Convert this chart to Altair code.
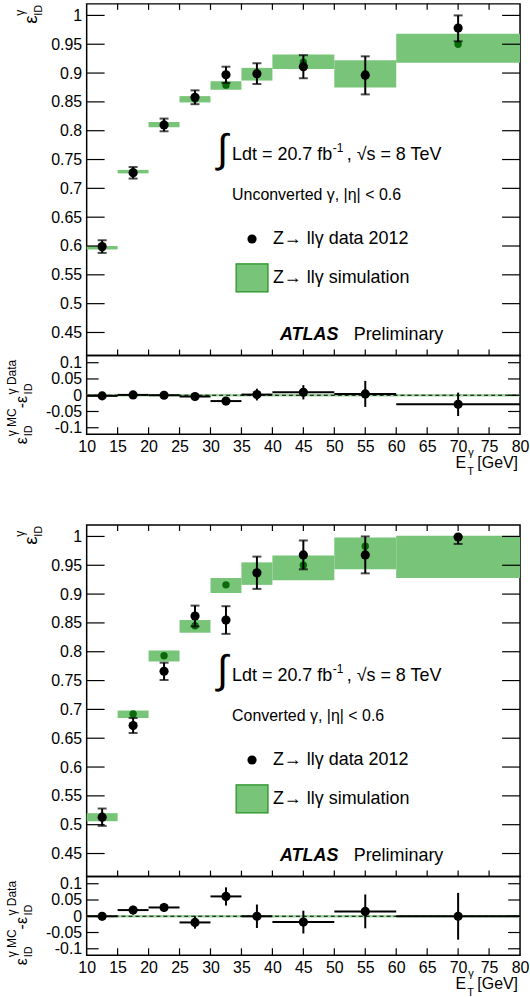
import altair as alt
import pandas as pd

# ---------------- data ----------------
bin_lo = [10, 15, 20, 25, 30, 35, 40, 50, 60]
bin_hi = [15, 20, 25, 30, 35, 40, 50, 60, 80]
bin_ctr = [12.5, 17.5, 22.5, 27.5, 32.5, 37.5, 45, 55, 70]

# unconverted photons
unc_data = [0.599, 0.727, 0.810, 0.858, 0.897, 0.899, 0.911, 0.896, 0.978]
unc_err_lo = [0.011, 0.010, 0.011, 0.012, 0.014, 0.018, 0.020, 0.033, 0.023]
unc_err_hi = [0.011, 0.010, 0.011, 0.012, 0.014, 0.018, 0.020, 0.033, 0.022]
unc_mc = [0.597, 0.729, 0.810, 0.855, 0.879, 0.898, 0.919, 0.899, 0.950]
unc_mc_lo = [0.594, 0.726, 0.806, 0.849, 0.871, 0.887, 0.907, 0.875, 0.918]
unc_mc_hi = [0.600, 0.732, 0.815, 0.860, 0.886, 0.909, 0.932, 0.922, 0.968]
unc_diff = [-0.002, 0.001, 0.000, -0.004, -0.018, 0.002, 0.009, 0.004, -0.028]
unc_diff_err = [0.004, 0.004, 0.004, 0.005, 0.005, 0.018, 0.022, 0.040, 0.036]

# converted photons
conv_data = [0.513, 0.672, 0.766, 0.862, 0.855, 0.937, 0.968, 0.968, 0.999]
conv_err_lo = [0.015, 0.013, 0.015, 0.018, 0.024, 0.028, 0.025, 0.032, 0.012]
conv_err_hi = [0.015, 0.013, 0.015, 0.018, 0.024, 0.028, 0.025, 0.032, 0.001]
conv_mc = [0.513, 0.692, 0.793, 0.845, 0.916, 0.935, 0.950, 0.983, 0.999]
conv_mc_lo = [0.506, 0.685, 0.783, 0.833, 0.902, 0.916, 0.924, 0.943, 0.928]
conv_mc_hi = [0.520, 0.698, 0.802, 0.855, 0.928, 0.955, 0.967, 0.998, 1.001]
conv_diff = [0.000, 0.019, 0.027, -0.019, 0.061, 0.000, -0.018, 0.015, 0.000]
conv_diff_err = [0.013, 0.013, 0.014, 0.019, 0.028, 0.036, 0.035, 0.052, 0.072]

ratio_band = [-0.004, 0.004]

x_tick_values = [15, 20, 25, 30, 35, 40, 45, 50, 55, 60, 65, 70, 75]
x_label_values = [10, 15, 20, 25, 30, 35, 40, 45, 50, 55, 60, 65, 70, 75, 80]
main_y_values = [0.45, 0.5, 0.55, 0.6, 0.65, 0.7, 0.75, 0.8, 0.85, 0.9, 0.95, 1.0]
ratio_y_values = [-0.1, -0.05, 0, 0.05, 0.1]

# ---------------- style ----------------
W, HM, HR, GAP = 435, 353, 79, 91
FONT = "Liberation Sans"
GFILL = "#78c478"
GDOT = "#0b6b0b"
GEDGE = "#1f8f1f"
RBAND = "#9fd49f"
ARROW = "\u2192"

xscale = alt.Scale(domain=[10, 80], nice=False, zero=False)
ymain = alt.Scale(domain=[0.41, 1.02], nice=False, zero=False)
yratio = alt.Scale(domain=[-0.12, 0.122], nice=False, zero=False)


def one(**kw):
    return pd.DataFrame({k: [v] for k, v in kw.items()})


def label_axis(values, orient, pad):
    return alt.Axis(values=values, orient=orient, labelExpr="toString(datum.value)",
                    ticks=False, tickSize=0, domain=False, grid=False,
                    labelFont=FONT, labelFontSize=16, labelColor="black",
                    labelPadding=pad, labelFlush=False, labelOverlap=False, title=None)


def ptxt(px, py, s, size, **kw):
    return alt.Chart(one(t=s)).mark_text(font=FONT, fontSize=size, color="black", **kw).encode(
        x=alt.value(px), y=alt.value(py), text="t:N")


def main_panel(data, elo, ehi, mc, mclo, mchi, region, anchor=False):
    df = pd.DataFrame({
        "lo": bin_lo, "hi": bin_hi, "ctr": bin_ctr, "d": data,
        "dlo": [a - b for a, b in zip(data, elo)],
        "dhi": [a + b for a, b in zip(data, ehi)],
        "mc": mc, "mclo": mclo, "mchi": mchi,
    })
    yax = label_axis(main_y_values, "left", 5)

    def X(f):
        return alt.X(f, type="quantitative", scale=xscale, axis=None)

    def Y(f):
        return alt.Y(f, type="quantitative", scale=ymain, axis=yax)

    def txt(x, y, s, size, **kw):
        return alt.Chart(one(x=x, y=y, t=s)).mark_text(
            font=FONT, fontSize=size, align="left", baseline="middle", color="black", **kw
        ).encode(x=X("x"), y=Y("y"), text="t:N")

    yt = pd.DataFrame({"v": main_y_values})
    xt = pd.DataFrame({"v": x_tick_values})
    layers = [
        alt.Chart(df).mark_rect(color=GFILL).encode(x=X("lo"), x2="hi", y=Y("mclo"), y2="mchi"),
        alt.Chart(yt).mark_rule(color="black", strokeWidth=1.2).encode(y=Y("v"), x=alt.value(0), x2=alt.value(18)),
        alt.Chart(yt).mark_rule(color="black", strokeWidth=1.2).encode(y=Y("v"), x=alt.value(W - 18), x2=alt.value(W)),
        alt.Chart(xt).mark_rule(color="black", strokeWidth=1.2).encode(x=X("v"), y=alt.value(0), y2=alt.value(6)),
        alt.Chart(xt).mark_rule(color="black", strokeWidth=1.2).encode(x=X("v"), y=alt.value(HM - 6), y2=alt.value(HM)),
        alt.Chart(df).mark_circle(size=55, color=GDOT, opacity=1).encode(x=X("ctr"), y=Y("mc")),
        alt.Chart(df).mark_rule(color="black", strokeWidth=2).encode(x=X("ctr"), y=Y("dlo"), y2="dhi"),
        alt.Chart(df).mark_tick(orient="horizontal", size=9, thickness=2, color="black").encode(x=X("ctr"), y=Y("dlo")),
        alt.Chart(df).mark_tick(orient="horizontal", size=9, thickness=2, color="black").encode(x=X("ctr"), y=Y("dhi")),
        alt.Chart(df).mark_circle(size=85, color="black", opacity=1).encode(x=X("ctr"), y=Y("d")),
        # annotations
        txt(31.1, 0.767, "∫", 40),
        txt(33.49, 0.7573, "Ldt = 20.7 fb", 18),
        txt(49.75, 0.7694, "-1", 12),
        txt(52.0, 0.7573, ", √s = 8 TeV", 18),
        txt(33.49, 0.6882, region, 16),
        alt.Chart(one(x=36.71, y=0.6122)).mark_circle(size=85, color="black", opacity=1).encode(x=X("x"), y=Y("y")),
        txt(40.09, 0.6122, "Z" + ARROW + " llγ data 2012", 18),
        alt.Chart(one(x1=34.14, x2=39.29, y1=0.5206, y2=0.5690)).mark_rect(
            fill=GFILL, stroke=GEDGE, strokeWidth=1.2).encode(x=X("x1"), x2="x2", y=Y("y1"), y2="y2"),
        txt(40.09, 0.5448, "Z" + ARROW + " llγ simulation", 18),
        txt(41.22, 0.4463, "ATLAS", 18, fontWeight="bold", fontStyle="italic"),
        txt(53.13, 0.4463, "Preliminary", 18),
        # y title  eps_ID^gamma
        ptxt(-50, 20, "ε", 19, angle=270, align="left", baseline="alphabetic"),
        ptxt(-63, 12, "γ", 12, angle=270, align="left", baseline="alphabetic"),
        ptxt(-45, 12, "ID", 11, angle=270, align="left", baseline="alphabetic"),
    ]
    if anchor:
        layers.append(alt.Chart(one(a=0)).mark_rect(color="white").encode(
            x=alt.value(-86), x2=alt.value(-85), y=alt.value(-1), y2=alt.value(0)))
    return alt.layer(*layers).properties(width=W, height=HM)


def ratio_panel(diff, derr):
    df = pd.DataFrame({
        "lo": bin_lo, "hi": bin_hi, "ctr": bin_ctr, "d": diff,
        "dlo": [a - b for a, b in zip(diff, derr)],
        "dhi": [a + b for a, b in zip(diff, derr)],
    })
    yax = label_axis(ratio_y_values, "left", 5)
    xax = label_axis(x_label_values, "bottom", 4)

    def X(f):
        return alt.X(f, type="quantitative", scale=xscale, axis=xax)

    def Y(f):
        return alt.Y(f, type="quantitative", scale=yratio, axis=yax)

    yt = pd.DataFrame({"v": ratio_y_values})
    xt = pd.DataFrame({"v": x_tick_values})
    band = one(a=10, b=80, lo=ratio_band[0], hi=ratio_band[1], z=0)
    layers = [
        alt.Chart(band).mark_rect(color=RBAND).encode(x=X("a"), x2="b", y=Y("lo"), y2="hi"),
        alt.Chart(band).mark_rule(color="black", strokeWidth=1.2, strokeDash=[4, 3]).encode(x=X("a"), x2="b", y=Y("z")),
        alt.Chart(yt).mark_rule(color="black", strokeWidth=1.2).encode(y=Y("v"), x=alt.value(0), x2=alt.value(12)),
        alt.Chart(yt).mark_rule(color="black", strokeWidth=1.2).encode(y=Y("v"), x=alt.value(W - 12), x2=alt.value(W)),
        alt.Chart(xt).mark_rule(color="black", strokeWidth=1.2).encode(x=X("v"), y=alt.value(HR - 7), y2=alt.value(HR)),
        alt.Chart(df).mark_rule(color="black", strokeWidth=2).encode(x=X("lo"), x2="hi", y=Y("d")),
        alt.Chart(df).mark_rule(color="black", strokeWidth=2).encode(x=X("ctr"), y=Y("dlo"), y2="dhi"),
        alt.Chart(df).mark_circle(size=85, color="black", opacity=1).encode(x=X("ctr"), y=Y("d")),
        # y title  eps_ID^{gamma MC} - eps_ID^{gamma Data}
        ptxt(-60, 89, "ε", 16, angle=270, align="left", baseline="alphabetic"),
        ptxt(-55, 81, "ID", 11, angle=270, align="left", baseline="alphabetic"),
        ptxt(-71, 81, "γ MC", 12, angle=270, align="left", baseline="alphabetic"),
        ptxt(-60, 53, "-ε", 16, angle=270, align="left", baseline="alphabetic"),
        ptxt(-55, 39, "ID", 11, angle=270, align="left", baseline="alphabetic"),
        ptxt(-71, 39, "γ Data", 12, angle=270, align="left", baseline="alphabetic"),
        # x title  E_T^gamma [GeV]
        ptxt(381, 113, "E", 16, align="right", baseline="alphabetic"),
        ptxt(382, 120, "T", 11, align="left", baseline="alphabetic"),
        ptxt(383, 101, "γ", 11, align="left", baseline="alphabetic"),
        ptxt(433, 113, "[GeV]", 16, align="right", baseline="alphabetic"),
    ]
    return alt.layer(*layers).properties(width=W, height=HR)


main1 = main_panel(unc_data, unc_err_lo, unc_err_hi, unc_mc, unc_mc_lo, unc_mc_hi,
                   "Unconverted γ, |η| < 0.6", anchor=True)
ratio1 = ratio_panel(unc_diff, unc_diff_err)
main2 = main_panel(conv_data, conv_err_lo, conv_err_hi, conv_mc, conv_mc_lo, conv_mc_hi,
                   "Converted γ, |η| < 0.6")
ratio2 = ratio_panel(conv_diff, conv_diff_err)

spacer = alt.Chart(one(a=0)).mark_point(opacity=0).encode(
    x=alt.value(0), y=alt.value(0)
).properties(width=W, height=GAP, view=alt.ViewBackground(strokeOpacity=0))

chart = alt.vconcat(main1, ratio1, spacer, main2, ratio2, spacing=0, bounds="flush").resolve_scale(
    x="independent", y="independent"
).properties(padding=0, background="white").configure_view(stroke="black", strokeWidth=1.5)

chart.save("out.html", embed_options={"renderer": "svg", "actions": False})
